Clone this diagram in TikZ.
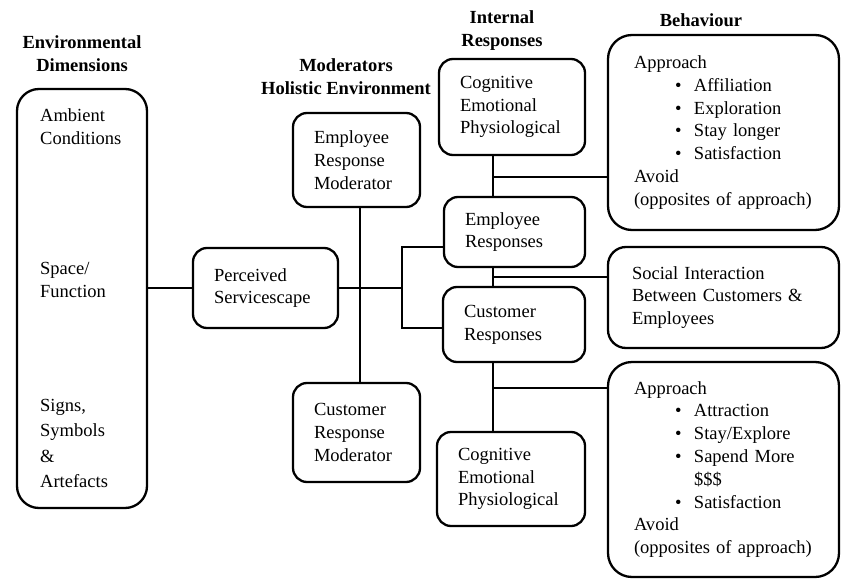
\documentclass[tikz,border=0pt]{standalone}
\usepackage{fontspec}
\setmainfont{Liberation Serif}
\newcommand{\bul}[1]{\hspace*{41pt}\makebox[19pt][l]{\textbullet}#1}

\begin{document}
\fontsize{18.5}{22.8}\selectfont
\begin{tikzpicture}[x=1pt, y=-1pt,
    box/.style={draw, line width=2.3pt, rounded corners=14pt, align=left, inner xsep=21pt, inner ysep=0pt},
    bigbox/.style={box, rounded corners=24pt, inner xsep=26pt, text width=179pt},
    head/.style={font=\bfseries, align=center},
    link/.style={line width=1.3pt}]
  \useasboundingbox (0,0) rectangle (842,580);

  % headings
  \node[head] (hEnv) at (82,54) {Environmental\\Dimensions};
  \node[head] (hMod) at (346,76.5) {Moderators\\Holistic Environment};
  \node[head] (hInt) at (502,30.5) {Internal\\Responses};
  \node[head] (hBeh) at (701,20) {Behaviour};

  % environmental dimensions
  \node[box, rounded corners=22pt, minimum width=130pt, minimum height=419pt] (env) at (82,298.5) {};
  \node[anchor=west, align=left, inner sep=0pt] (amb) at (40,127) {Ambient\\Conditions};
  \node[anchor=west, align=left, inner sep=0pt] (spc) at (40,280) {Space/\\Function};
  \node[anchor=west, align=left, inner sep=0pt, font=\fontsize{18.5}{25.6}\selectfont] (sig) at (40,443.5) {Signs,\\Symbols\\\&\\Artefacts};

  \node[box, text width=103pt, minimum height=80pt] (perc) at (265.5,288) {Perceived\\Servicescape};

  % moderators
  \node[box, text width=85pt, minimum height=94pt] (empmod) at (356.5,160) {Employee\\Response\\Moderator};
  \node[box, text width=85pt, minimum height=99pt] (cusmod) at (356.5,432.5) {Customer\\Response\\Moderator};

  % internal responses
  \node[box, text width=104pt, minimum height=96pt] (cogA) at (512,107) {Cognitive\\Emotional\\Physiological};
  \node[box, text width=99pt, minimum height=70pt] (empres) at (514.5,232) {Employee\\Responses};
  \node[box, text width=100pt, minimum height=75pt] (cusres) at (514,324.5) {Customer\\Responses};
  \node[box, text width=106pt, minimum height=94pt] (cogB) at (511,479) {Cognitive\\Emotional\\Physiological};

  % behaviour
  \node[bigbox, minimum height=195pt] (behA) at (723.5,132.5) {Approach\\\bul{Affiliation}\\\bul{Exploration}\\\bul{Stay longer}\\\bul{Satisfaction}\\Avoid\\(opposites of approach)};
  \node[box, rounded corners=18pt, inner xsep=24pt, text width=183pt, minimum height=101pt] (soc) at (723.5,297.5) {Social Interaction\\Between Customers \&\\Employees};
  \node[bigbox, minimum height=215pt] (behB) at (723.5,469.5) {Approach\\\bul{Attraction}\\\bul{Stay/Explore}\\\bul{Sapend More}\\\hspace*{60pt}\$\$\$\\\bul{Satisfaction}\\Avoid\\(opposites of approach)};

  % connectors
  \draw[link] (perc.west) -- (perc.west -| env.east);
  \draw[link] ([xshift=3.5pt]empmod.south) -- ([xshift=3.5pt]cusmod.north);
  \coordinate (split) at (402,288);
  \draw[link] (perc.east) -- (split);
  \draw[link] ([yshift=-15pt]empres.west) -| (split) |- ([yshift=-3.5pt]cusres.west);

  \coordinate (spine) at (493,0);
  \draw[link] (cogA.south -| spine) -- (empres.north -| spine);
  \draw[link] (empres.south -| spine) -- (cusres.north -| spine);
  \draw[link] (cusres.south -| spine) -- (cogB.north -| spine);

  \coordinate (bA) at (493,177);
  \coordinate (bB) at (493,277);
  \coordinate (bC) at (493,388);
  \draw[link] (bA) -- (bA -| behA.west);
  \draw[link] (bB) -- (bB -| soc.west);
  \draw[link] (bC) -- (bC -| behB.west);
\end{tikzpicture}
\end{document}
